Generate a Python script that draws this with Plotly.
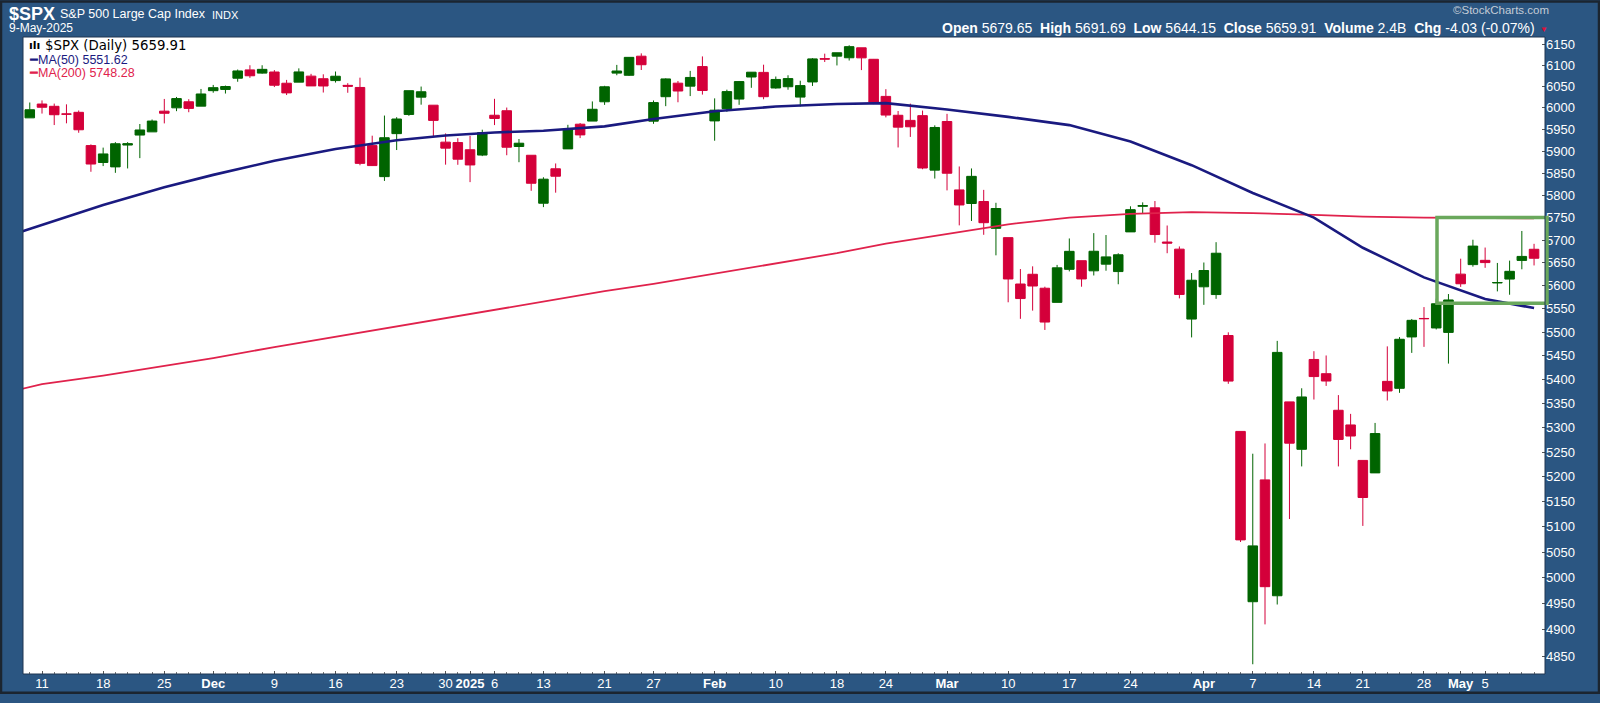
import plotly.graph_objects as go
import math

# ---------------- data ----------------
dates = [
    "2024-11-08", "2024-11-11", "2024-11-12", "2024-11-13", "2024-11-14", "2024-11-15",
    "2024-11-18", "2024-11-19", "2024-11-20", "2024-11-21", "2024-11-22",
    "2024-11-25", "2024-11-26", "2024-11-27", "2024-11-29",
    "2024-12-02", "2024-12-03", "2024-12-04", "2024-12-05", "2024-12-06",
    "2024-12-09", "2024-12-10", "2024-12-11", "2024-12-12", "2024-12-13",
    "2024-12-16", "2024-12-17", "2024-12-18", "2024-12-19", "2024-12-20",
    "2024-12-23", "2024-12-24", "2024-12-26", "2024-12-27", "2024-12-30", "2024-12-31",
    "2025-01-02", "2025-01-03", "2025-01-06", "2025-01-07", "2025-01-08", "2025-01-10",
    "2025-01-13", "2025-01-14", "2025-01-15", "2025-01-16", "2025-01-17",
    "2025-01-21", "2025-01-22", "2025-01-23", "2025-01-24",
    "2025-01-27", "2025-01-28", "2025-01-29", "2025-01-30", "2025-01-31",
    "2025-02-03", "2025-02-04", "2025-02-05", "2025-02-06", "2025-02-07",
    "2025-02-10", "2025-02-11", "2025-02-12", "2025-02-13", "2025-02-14",
    "2025-02-18", "2025-02-19", "2025-02-20", "2025-02-21",
    "2025-02-24", "2025-02-25", "2025-02-26", "2025-02-27", "2025-02-28",
    "2025-03-03", "2025-03-04", "2025-03-05", "2025-03-06", "2025-03-07",
    "2025-03-10", "2025-03-11", "2025-03-12", "2025-03-13", "2025-03-14",
    "2025-03-17", "2025-03-18", "2025-03-19", "2025-03-20", "2025-03-21",
    "2025-03-24", "2025-03-25", "2025-03-26", "2025-03-27", "2025-03-28",
    "2025-03-31", "2025-04-01", "2025-04-02", "2025-04-03", "2025-04-04",
    "2025-04-07", "2025-04-08", "2025-04-09", "2025-04-10", "2025-04-11",
    "2025-04-14", "2025-04-15", "2025-04-16", "2025-04-17",
    "2025-04-21", "2025-04-22", "2025-04-23", "2025-04-24", "2025-04-25",
    "2025-04-28", "2025-04-29", "2025-04-30", "2025-05-01", "2025-05-02",
    "2025-05-05", "2025-05-06", "2025-05-07", "2025-05-08", "2025-05-09",
]

open_ = [
    5976.76, 6008.86, 6003.60, 5985.75, 5989.60, 5912.79,
    5874.17, 5864.13, 5914.01, 5937.00, 5944.36,
    5992.28, 6000.03, 6014.11, 6003.98,
    6040.11, 6042.97, 6069.39, 6089.03, 6081.38,
    6083.99, 6057.59, 6060.15, 6074.29, 6068.17,
    6063.79, 6052.55, 6047.65, 5912.71, 5842.00,
    5940.25, 5984.63, 6024.97, 6006.17, 5920.67, 5919.74,
    5903.26, 5891.07, 5982.81, 5993.26, 5910.66, 5890.66,
    5782.05, 5859.80, 5905.21, 5962.06, 5969.24,
    6014.12, 6081.39, 6076.32, 6121.43,
    5969.04, 6026.01, 6057.70, 6050.75, 6096.79,
    5969.65, 5998.14, 6020.45, 6072.22, 6083.13,
    6046.40, 6049.32, 6025.08, 6060.59, 6115.52,
    6121.60, 6117.76, 6141.40, 6114.10,
    6026.69, 5982.73, 5970.87, 5981.88, 5856.74,
    5968.33, 5811.98, 5781.39, 5785.87, 5726.01,
    5705.37, 5603.65, 5624.84, 5594.45, 5563.85,
    5635.60, 5654.53, 5632.37, 5646.92, 5630.73,
    5718.08, 5775.16, 5771.66, 5695.64, 5679.92,
    5527.91, 5597.53, 5580.76, 5492.74, 5292.14,
    4953.79, 5193.57, 4965.28, 5353.15, 5255.56,
    5441.96, 5411.99, 5335.75, 5305.45,
    5232.94, 5207.67, 5395.93, 5381.38, 5489.73,
    5529.22, 5508.87, 5499.44, 5625.14, 5645.94,
    5655.32, 5605.88, 5614.36, 5655.18, 5679.65,
]

high = [
    6012.45, 6017.31, 6009.92, 6008.19, 5993.88, 5915.56,
    5908.12, 5920.67, 5920.67, 5962.51, 5972.90,
    6020.75, 6025.42, 6020.16, 6044.17,
    6053.58, 6052.07, 6089.84, 6099.97, 6099.97,
    6088.51, 6065.40, 6092.59, 6079.68, 6078.58,
    6085.19, 6057.68, 6070.67, 5935.52, 5982.06,
    5978.25, 6040.10, 6049.75, 6006.17, 5940.79, 5929.74,
    5935.09, 5949.34, 6021.04, 6000.68, 5927.89, 5890.66,
    5840.58, 5871.92, 5960.61, 5964.69, 6014.96,
    6051.51, 6100.81, 6118.73, 6128.18,
    6017.17, 6069.10, 6062.83, 6086.64, 6120.91,
    6022.13, 6042.48, 6062.86, 6084.03, 6101.28,
    6073.38, 6076.28, 6063.46, 6116.91, 6127.47,
    6129.63, 6147.43, 6141.40, 6114.82,
    6043.65, 5992.65, 6009.82, 5993.69, 5959.40,
    5986.09, 5865.08, 5860.59, 5812.08, 5783.01,
    5705.37, 5636.30, 5642.19, 5597.78, 5645.27,
    5703.52, 5654.53, 5715.33, 5711.15, 5670.84,
    5775.14, 5783.98, 5786.95, 5732.28, 5685.89,
    5627.56, 5650.57, 5695.31, 5499.53, 5292.14,
    5246.57, 5267.47, 5481.34, 5353.15, 5381.46,
    5459.46, 5450.41, 5367.24, 5328.31,
    5232.94, 5309.60, 5469.69, 5489.40, 5528.11,
    5553.66, 5571.95, 5581.84, 5658.91, 5700.70,
    5683.45, 5649.61, 5654.67, 5720.10, 5691.69,
]

low = [
    5976.76, 5986.69, 5960.08, 5964.08, 5942.28, 5853.01,
    5865.95, 5850.64, 5860.58, 5884.08, 5944.36,
    5963.91, 5992.27, 5989.80, 6003.98,
    6035.33, 6033.39, 6061.06, 6070.25, 6079.98,
    6048.63, 6029.89, 6060.15, 6051.25, 6035.77,
    6059.14, 6035.19, 5867.79, 5866.07, 5832.30,
    5902.57, 5981.44, 6007.37, 5932.95, 5869.16, 5868.86,
    5829.53, 5888.66, 5960.01, 5890.68, 5874.78, 5809.94,
    5773.31, 5805.74, 5905.21, 5930.02, 5969.24,
    6006.88, 6076.38, 6074.67, 6088.74,
    5962.92, 6003.91, 6012.96, 6027.46, 6030.93,
    5923.93, 5990.87, 6007.06, 6046.83, 6019.96,
    6044.84, 6042.34, 6003.00, 6051.18, 6107.62,
    6099.51, 6111.15, 6088.51, 6008.56,
    5977.83, 5908.49, 5932.69, 5858.78, 5837.66,
    5810.91, 5732.59, 5742.35, 5711.64, 5666.29,
    5564.02, 5528.41, 5546.09, 5504.65, 5563.85,
    5631.12, 5597.76, 5622.20, 5632.59, 5603.10,
    5718.08, 5758.53, 5694.23, 5670.94, 5572.42,
    5488.73, 5558.52, 5571.48, 5390.83, 5069.90,
    4835.04, 4910.42, 4948.43, 5115.27, 5220.77,
    5358.02, 5386.44, 5220.79, 5255.58,
    5101.63, 5207.67, 5356.00, 5371.96, 5455.86,
    5468.64, 5505.70, 5433.24, 5597.35, 5641.46,
    5638.94, 5587.61, 5580.35, 5635.71, 5644.15,
]

close = [
    5995.54, 6001.35, 5983.99, 5985.38, 5949.17, 5870.62,
    5893.62, 5916.98, 5917.11, 5948.71, 5969.34,
    5987.37, 6021.63, 5998.74, 6032.38,
    6047.15, 6049.88, 6086.49, 6075.11, 6090.27,
    6052.85, 6034.91, 6084.19, 6051.25, 6051.09,
    6074.08, 6050.61, 5872.16, 5867.08, 5930.85,
    5974.07, 6040.04, 6037.59, 5970.84, 5906.94, 5881.63,
    5868.55, 5942.47, 5975.38, 5909.03, 5918.25, 5827.04,
    5836.22, 5842.91, 5949.91, 5937.34, 5996.66,
    6049.24, 6086.37, 6118.71, 6101.24,
    6012.28, 6067.70, 6039.31, 6071.17, 6040.53,
    5994.57, 6037.88, 6061.48, 6083.57, 6025.99,
    6066.44, 6068.50, 6051.97, 6115.07, 6114.63,
    6129.58, 6144.15, 6117.52, 6013.13,
    5983.25, 5955.25, 5956.06, 5861.57, 5954.50,
    5849.72, 5778.15, 5842.63, 5738.52, 5770.20,
    5614.56, 5572.07, 5599.30, 5521.52, 5638.94,
    5675.12, 5614.66, 5675.29, 5662.89, 5667.56,
    5767.57, 5776.65, 5712.20, 5693.31, 5580.94,
    5611.85, 5633.07, 5670.97, 5396.52, 5074.08,
    5062.25, 4982.77, 5456.90, 5268.05, 5363.36,
    5405.97, 5396.63, 5275.70, 5282.70,
    5158.20, 5287.76, 5375.86, 5484.77, 5525.21,
    5528.75, 5560.83, 5569.06, 5604.14, 5686.67,
    5650.38, 5606.91, 5631.28, 5663.94, 5659.91,
]

ma50_dates = ["2024-11-07", "2024-11-11", "2024-11-18", "2024-11-25", "2024-12-02",
              "2024-12-09", "2024-12-16", "2024-12-23", "2024-12-30", "2025-01-06",
              "2025-01-13", "2025-01-21", "2025-01-27", "2025-02-03", "2025-02-10",
              "2025-02-18", "2025-02-24", "2025-03-03", "2025-03-10", "2025-03-17",
              "2025-03-24", "2025-03-31", "2025-04-07", "2025-04-14", "2025-04-21",
              "2025-04-28", "2025-05-05", "2025-05-09"]
ma50_values = [5716, 5734, 5778, 5818, 5846,
               5878, 5905, 5925, 5936, 5943,
               5947, 5957, 5974, 5992, 6003,
               6009, 6011, 5996, 5979, 5960,
               5922, 5868, 5805, 5750, 5683,
               5618, 5571, 5551.62]

ma200_dates = ma50_dates
ma200_values = [5378, 5390, 5408, 5428, 5445,
                5468, 5490, 5513, 5530, 5548,
                5566, 5588, 5604, 5626, 5648,
                5671, 5692, 5713, 5735, 5750,
                5758, 5762, 5760, 5756, 5752,
                5750, 5749, 5748.28]

y_ticks = list(range(4850, 6151, 50))

x_tick_dates = ["2024-11-11", "2024-11-18", "2024-11-25", "2024-12-02", "2024-12-09",
                "2024-12-16", "2024-12-23", "2024-12-30", "2025-01-02", "2025-01-06",
                "2025-01-13", "2025-01-21", "2025-01-27", "2025-02-03", "2025-02-10",
                "2025-02-18", "2025-02-24", "2025-03-03", "2025-03-10", "2025-03-17",
                "2025-03-24", "2025-04-01", "2025-04-07", "2025-04-14", "2025-04-21",
                "2025-04-28", "2025-05-01", "2025-05-05"]
x_tick_labels = ["11", "18", "25", "<b>Dec</b>", "9", "16", "23", "30", "<b>2025</b>", "6",
                 "13", "21", "27", "<b>Feb</b>", "10", "18", "24", "<b>Mar</b>", "10", "17",
                 "24", "<b>Apr</b>", "7", "14", "21", "28", "<b>May</b>", "5"]

# ---------------- layout helpers ----------------
W, H = 1600, 703
L, R, T, B = 23, 1545, 37, 683
axis_dates = ["2024-11-07"] + dates
pos = {d: i for i, d in enumerate(axis_dates)}
cx = [pos[d] for d in dates]


def px(x):
    return (x - L) / (R - L)


def py(y):
    return (B - y) / (B - T)


BG = "#2b5682"
GREEN = "#006400"
RED = "#d4003a"
FONT = "Liberation Sans, Arial, sans-serif"

fig = go.Figure()
fig.add_trace(go.Scatter(x=[pos[d] for d in ma200_dates], y=ma200_values, mode="lines",
                         line=dict(color="#e0224c", width=1.8), hoverinfo="skip", showlegend=False))
fig.add_trace(go.Scatter(x=[pos[d] for d in ma50_dates], y=ma50_values, mode="lines",
                         line=dict(color="#1a1a80", width=2.6), hoverinfo="skip", showlegend=False))
fig.add_trace(go.Candlestick(
    x=cx, open=open_, high=high, low=low, close=close,
    increasing=dict(line=dict(color=GREEN, width=1), fillcolor=GREEN),
    decreasing=dict(line=dict(color=RED, width=1), fillcolor=RED),
    whiskerwidth=0, showlegend=False, hoverinfo="skip"))

x0 = 17.54  # pixel of index 0
step = 12.23
fig.update_layout(
    width=W, height=H,
    margin=dict(l=L, r=W - R, t=T, b=H - B),
    paper_bgcolor=BG, plot_bgcolor="white",
    boxgap=0.22, boxgroupgap=0,
    font=dict(family=FONT, color="white"),
    xaxis=dict(
        range=[(L - x0) / step, (R - x0) / step],
        tickmode="array", tickvals=[pos[d] for d in x_tick_dates], ticktext=x_tick_labels,
        tickfont=dict(size=13, color="white", family=FONT),
        ticks="inside", ticklen=3, tickcolor="#555555",
        minor=dict(dtick=1, tick0=0, ticks="inside", ticklen=2, tickcolor="#777777"),
        showgrid=False, zeroline=False, showline=False,
        rangeslider=dict(visible=False), fixedrange=True,
    ),
    yaxis=dict(
        type="log", side="right",
        range=[math.log10(4816.8), math.log10(6167.2)],
        tickmode="array", tickvals=y_ticks, ticktext=[str(v) for v in y_ticks],
        tickfont=dict(size=13, color="white", family=FONT),
        ticks="inside", ticklen=3, tickcolor="#555555",
        showgrid=False, zeroline=False, showline=False, fixedrange=True,
    ),
)

ann = []
ann.append(dict(x=px(7), y=py(14), text="<b>$SPX</b>", font=dict(size=18, color="white", family=FONT),
                xanchor="left", yanchor="middle"))
ann.append(dict(x=px(58), y=py(14), text="S&P 500 Large Cap Index", font=dict(size=12.5, color="white", family=FONT),
                xanchor="left", yanchor="middle"))
ann.append(dict(x=px(210), y=py(14.5), text="INDX", font=dict(size=11, color="white", family=FONT),
                xanchor="left", yanchor="middle"))
ann.append(dict(x=px(7), y=py(28), text="9-May-2025", font=dict(size=12, color="white", family=FONT),
                xanchor="left", yanchor="middle"))
ann.append(dict(x=px(1551), y=py(10), text="©StockCharts.com", font=dict(size=11.5, color="#c4ccd6", family=FONT),
                xanchor="right", yanchor="middle"))
ohlc_text = ("<b>Open</b> 5679.65  <b>High</b> 5691.69  <b>Low</b> 5644.15  <b>Close</b> 5659.91  "
             "<b>Volume</b> 2.4B  <b>Chg</b> -4.03 (-0.07%)")
ann.append(dict(x=px(1537), y=py(28), text=ohlc_text, font=dict(size=14, color="white", family=FONT),
                xanchor="right", yanchor="middle"))
ann.append(dict(x=px(1538), y=py(29), text="▼", font=dict(size=8, color="#e0103a", family=FONT),
                xanchor="left", yanchor="middle"))
# in-plot legend
ann.append(dict(x=px(27), y=py(46), text="<b>ılı</b>", font=dict(size=11, color="black", family="DejaVu Sans"),
                xanchor="left", yanchor="middle"))
ann.append(dict(x=px(43), y=py(46), text="$SPX (Daily) 5659.91", font=dict(size=13.3, color="black", family="DejaVu Sans"),
                xanchor="left", yanchor="middle"))
ann.append(dict(x=px(27), y=py(60), text="━MA(50) 5551.62", font=dict(size=12.5, color="#1a1a80", family=FONT),
                xanchor="left", yanchor="middle"))
ann.append(dict(x=px(27), y=py(74), text="━MA(200) 5748.28", font=dict(size=12.5, color="#e0224c", family=FONT),
                xanchor="left", yanchor="middle"))
for a in ann:
    a.update(xref="paper", yref="paper", showarrow=False)
fig.update_layout(annotations=ann)

shapes = [
    # green highlight box
    dict(type="rect", xref="paper", yref="paper", x0=px(1437), x1=px(1547), y0=py(307), y1=py(220),
         line=dict(color="#6aa85c", width=3.5), fillcolor="rgba(0,0,0,0)", layer="above"),
    # plot frame
    dict(type="rect", xref="paper", yref="paper", x0=0, x1=1, y0=0, y1=1,
         line=dict(color="#1e3550", width=1), layer="above"),
    # outer border
    dict(type="rect", xref="paper", yref="paper", x0=px(1), x1=px(1599), y0=py(702), y1=py(1),
         line=dict(color="#1b2530", width=2.5), layer="above"),
]
fig.update_layout(shapes=shapes)

fig.write_html("out.html",
               config={"displayModeBar": False, "staticPlot": True},
               post_script="document.body.style.margin='0';document.body.style.overflow='hidden';")
